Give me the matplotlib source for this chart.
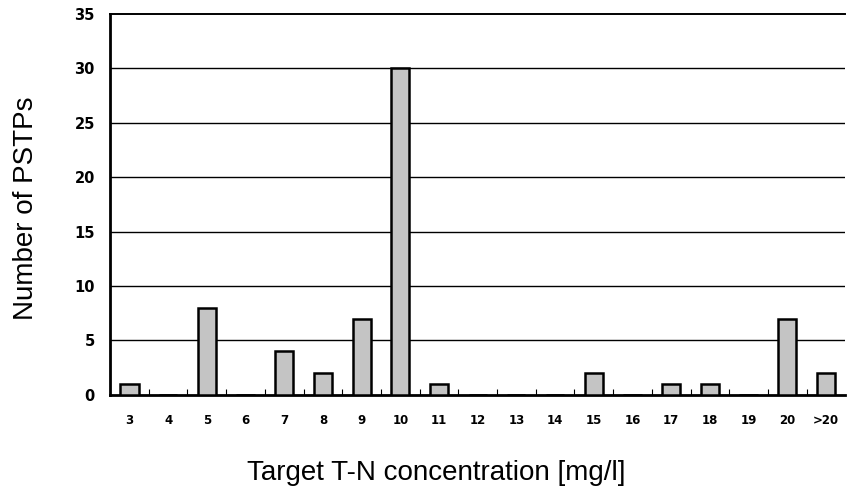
import matplotlib
matplotlib.use("Agg")
import matplotlib.pyplot as plt
import numpy as np

categories = ["3", "4", "5", "6", "7", "8", "9", "10", "11", "12", "13", "14",
              "15", "16", "17", "18", "19", "20", ">20"]
counts = [1, 0, 8, 0, 4, 2, 7, 30, 1, 0, 0, 0, 2, 0, 1, 1, 0, 7, 2]
yticks = [0, 5, 10, 15, 20, 25, 30, 35]

fig = plt.figure(figsize=(8.47, 4.93), dpi=100)
ax = fig.add_axes([0.130, 0.199, 0.868, 0.773])

x = np.arange(len(categories))
ax.bar(x, counts, width=0.47, color="#c4c4c4", edgecolor="black", linewidth=1.8, zorder=3)

ax.set_xlim(-0.5, len(categories) - 0.5)
ax.set_ylim(0, 35)
ax.set_yticks(yticks)
ax.set_yticklabels([str(v) for v in yticks], fontsize=10.5, fontweight="bold")
ax.set_xticks(x)
ax.set_xticklabels(categories, fontsize=8.5, fontweight="bold")
ax.tick_params(axis="x", length=0, pad=14)
ax.tick_params(axis="y", length=0, pad=11)
ax.set_xticks(np.arange(len(categories) - 1) + 0.5, minor=True)
ax.tick_params(axis="x", which="minor", direction="in", length=4, width=0.8)

for v in yticks[1:-1]:
    ax.axhline(v, color="black", linewidth=1.0, zorder=1)

for side in ["left", "bottom"]:
    ax.spines[side].set_linewidth(2.0)
ax.spines["top"].set_linewidth(1.4)
ax.spines["right"].set_visible(False)

ax.set_ylabel("Number of PSTPs", fontsize=20, family="Liberation Sans")
ax.set_xlabel("Target T-N concentration [mg/l]", fontsize=20, family="Liberation Sans")
ax.yaxis.set_label_coords(-0.097, 0.49)
ax.xaxis.set_label_coords(0.4435, -0.172)

fig.savefig("out.png", dpi=100)
